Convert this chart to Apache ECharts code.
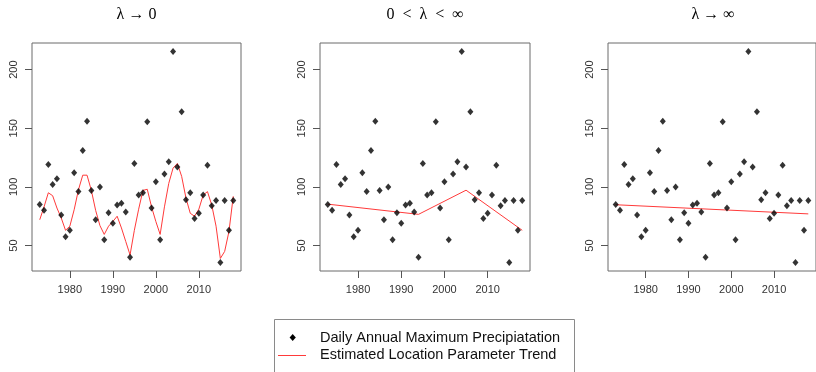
<!DOCTYPE html>
<html>
<head>
<meta charset="utf-8">
<script src="https://cdn.jsdelivr.net/npm/echarts@6/dist/echarts.min.js"></script>
<style>
html,body{margin:0;padding:0;background:#fff;}
#chart{width:816px;height:372px;}
</style>
</head>
<body>
<div id="chart"></div>
<script>
// ---- data ----
const years = [1973,1974,1975,1976,1977,1978,1979,1980,1981,1982,1983,1984,1985,1986,1987,1988,1989,1990,1991,1992,1993,1994,1995,1996,1997,1998,1999,2000,2001,2002,2003,2004,2005,2006,2007,2008,2009,2010,2011,2012,2013,2014,2015,2016,2017,2018];
const precip = [85,80,119,102,107,76,57.5,63,112,96,131,156,97,72,100,55,78,69,84.5,86,78.5,40,120,93,95,155.5,82,104.5,55,111,121.5,215.5,117,164,89,95,73,77.5,93,118.5,84,88.5,35.5,88.5,63,88.5];
// panel 1: lambda -> 0 (smooth trend, one value per year)
const trend1 = [72,83,95,92.5,82,73.5,63,66.5,80.5,97.5,110,110,97,80,67,59.5,66.5,70.5,75,65,53.5,42,63,81,97,98,83,70.5,59.5,83,103,116,120,109,90.5,77.5,75,81,93,96,84.5,66.5,39,45,62,92];
// panel 2: 0 < lambda < inf (piecewise linear knots)
const knotYears2 = [1973,1994,2005,2018];
const knotVals2 = [85.3,76.6,97.2,63];
// panel 3: lambda -> inf (linear trend)
const lineYears3 = [1973,2018];
const lineVals3 = [84.8,77];
const titles = ['\u03bb \u2192 0','0\u2002<\u2002\u03bb\u2002<\u2002\u221e','\u03bb \u2192 \u221e'];
const xTicks = [1980,1990,2000,2010];
const yTicks = [50,100,150,200];
const legendNames = ['Daily Annual Maximum Precipiatation','Estimated Location Parameter Trend'];

// ---- chart ----
const chart = echarts.init(document.getElementById('chart'), null, {renderer:'canvas'});
const gridLefts = [32, 320, 608];
const gridWidths = [209, 210, 210];
const grids = gridLefts.map((l,i)=>({left:l, top:43, width:gridWidths[i], height:228, show:true, borderColor:'#6a6a6a', borderWidth:1, backgroundColor:'transparent', containLabel:false}));
const labelStyle = {color:'#333', fontFamily:'Liberation Sans', fontSize:11};
const xAxes = grids.map((g,i)=>({
  type:'value', gridIndex:i, min:1971.2, max:2019.8,
  axisLine:{show:false}, splitLine:{show:false},
  axisTick:{show:true, inside:false, length:7, customValues:xTicks, lineStyle:{color:'#555'}},
  axisLabel:Object.assign({customValues:xTicks, margin:13, formatter:v=>String(v)}, labelStyle)
}));
const yAxes = grids.map((g,i)=>({
  type:'value', gridIndex:i, min:28.3, max:222.7,
  axisLine:{show:false}, splitLine:{show:false},
  axisTick:{show:true, inside:false, length:7, customValues:yTicks, lineStyle:{color:'#555'}},
  axisLabel:Object.assign({customValues:yTicks, rotate:90, margin:13, formatter:v=>String(v)}, labelStyle)
}));
const pts = years.map((y,i)=>[y, precip[i]]);
const lines = [
  years.map((y,i)=>[y, trend1[i]]),
  knotYears2.map((y,i)=>[y, knotVals2[i]]),
  lineYears3.map((y,i)=>[y, lineVals3[i]])
];
const series = [];
for (let i=0;i<3;i++){
  series.push({type:'scatter', name:legendNames[0], xAxisIndex:i, yAxisIndex:i, data:pts, symbol:'diamond', symbolSize:[6,7], itemStyle:{color:'#000'}, silent:true, z:3});
  series.push({type:'line', name:legendNames[1], xAxisIndex:i, yAxisIndex:i, data:lines[i], symbol:'none', smooth:false, lineStyle:{color:'#ff3a3a', width:1}, silent:true, z:2});
}
const centers = gridLefts.map((l,i)=>l + gridWidths[i]/2);
const graphics = titles.map((t,i)=>({type:'text', x:centers[i], y:15, style:{text:t, textAlign:'center', textVerticalAlign:'middle', font:'16px "Liberation Serif"', fill:'#000'}}));
graphics.push({type:'rect', shape:{x:274.5, y:319.5, width:300, height:70}, style:{fill:'none', stroke:'#8a8a8a', lineWidth:1}});
graphics.push({type:'polygon', shape:{points:[[292.7,334],[295.8,337.5],[292.7,341],[289.6,337.5]]}, style:{fill:'#000'}});
graphics.push({type:'line', shape:{x1:278, y1:355.5, x2:306, y2:355.5}, style:{stroke:'#ff3a3a', lineWidth:1}});
graphics.push({type:'text', x:320, y:338, style:{text:legendNames[0], textVerticalAlign:'middle', font:'14.5px "Liberation Sans"', fill:'#111'}});
graphics.push({type:'text', x:320, y:355, style:{text:legendNames[1], textVerticalAlign:'middle', font:'14.5px "Liberation Sans"', fill:'#111'}});

chart.setOption({
  animation:false,
  backgroundColor:'#fff',
  grid:grids, xAxis:xAxes, yAxis:yAxes, series:series, graphic:graphics
});
</script>
</body>
</html>
